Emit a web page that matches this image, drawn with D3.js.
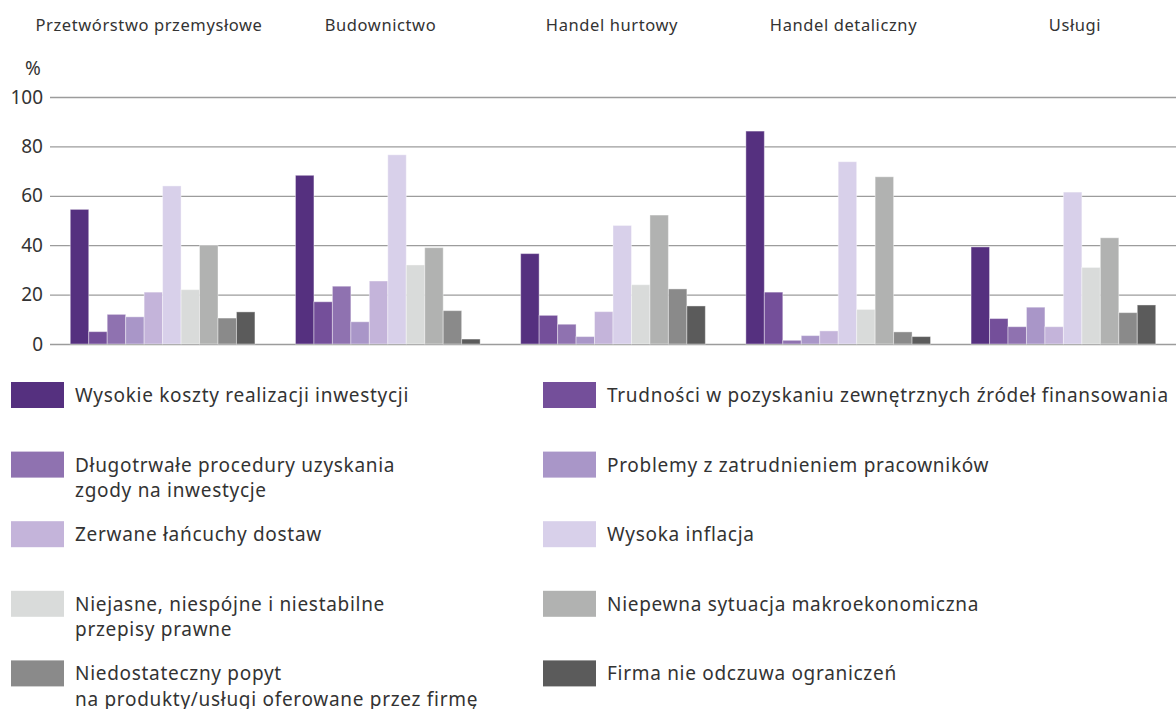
<!DOCTYPE html>
<html>
<head>
<meta charset="utf-8">
<script src="https://cdn.jsdelivr.net/npm/d3@7"></script>
<style>
  body { margin: 0; background: #fff; }
  svg text { font-family: "Noto Sans", sans-serif; fill: #333; }
</style>
</head>
<body>
<svg id="chart" width="1176" height="709"></svg>
<script>
// sectors (groups along x)
var categories = ["Przetwórstwo przemysłowe", "Budownictwo", "Handel hurtowy", "Handel detaliczny", "Usługi"];

// barriers (series), lines split with \n for the legend
var seriesNames = [
  "Wysokie koszty realizacji inwestycji",
  "Trudności w pozyskaniu zewnętrznych źródeł finansowania",
  "Długotrwałe procedury uzyskania\nzgody na inwestycje",
  "Problemy z zatrudnieniem pracowników",
  "Zerwane łańcuchy dostaw",
  "Wysoka inflacja",
  "Niejasne, niespójne i niestabilne\nprzepisy prawne",
  "Niepewna sytuacja makroekonomiczna",
  "Niedostateczny popyt\nna produkty/usługi oferowane przez firmę",
  "Firma nie odczuwa ograniczeń"
];

var colors = ["#55307f", "#744f9a", "#8f72b0", "#a996c8", "#c4b4da",
              "#d8d0ea", "#d9dbda", "#b1b2b1", "#8a8a8a", "#5b5b5b"];

// values in %, one array per sector, in series order
var przetworstwo = [54.5, 5, 12, 11, 21, 64, 22, 40, 10.5, 13];
var budownictwo  = [68.3, 17.1, 23.4, 9, 25.5, 76.6, 32, 39, 13.5, 2];
var hurt         = [36.6, 11.6, 8, 3, 13.1, 48, 24, 52.2, 22.3, 15.4];
var detal        = [86.2, 21, 1.5, 3.4, 5.3, 73.8, 14, 67.7, 4.9, 3];
var uslugi       = [39.3, 10.3, 7, 14.9, 7, 61.5, 31, 43, 12.7, 15.8];
var values = [przetworstwo, budownictwo, hurt, detal, uslugi];

var yTicks = [0, 20, 40, 60, 80, 100];

var svg = d3.select("#chart");

var x0 = d3.scaleBand()
  .domain(categories)
  .range([50, 1176])
  .paddingInner(0.18)
  .paddingOuter(0.09);

var x1 = d3.scaleBand()
  .domain(d3.range(seriesNames.length))
  .range([0, x0.bandwidth()]);

var y = d3.scaleLinear().domain([0, 100]).range([344, 97]);

// labels over each group (spaced a bit wider than the groups)
var xLab = d3.scalePoint().domain(categories).range([149, 1075]);
svg.append("g").selectAll("text")
  .data(categories)
  .enter().append("text")
  .attr("x", function(d) { return xLab(d); })
  .attr("y", 31)
  .attr("text-anchor", "middle")
  .style("font-size", "16.5px")
  .style("letter-spacing", "0.6px")
  .text(function(d) { return d; });

// gridlines + tick labels
var yAxis = svg.append("g")
  .attr("transform", "translate(50,0)")
  .call(d3.axisLeft(y).tickValues(yTicks).tickSize(-1126).tickPadding(7));
yAxis.select(".domain").remove();
yAxis.selectAll(".tick line").attr("stroke", "#9c9c9c").attr("stroke-width", 1.3);
yAxis.selectAll(".tick text")
  .attr("fill", "#333")
  .style("font-size", "19px")
  .style("font-family", "'Noto Sans', sans-serif");

svg.append("text")
  .attr("x", 33).attr("y", 75)
  .attr("text-anchor", "middle")
  .style("font-size", "19px")
  .text("%");

// bars
var groups = svg.append("g").selectAll("g")
  .data(values)
  .enter().append("g")
  .attr("transform", function(d, i) { return "translate(" + x0(categories[i]) + ",0)"; });

groups.selectAll("rect")
  .data(function(d) { return d; })
  .enter().append("rect")
  .attr("x", function(d, j) { return x1(j); })
  .attr("y", function(d) { return y(d); })
  .attr("width", x1.bandwidth())
  .attr("height", function(d) { return y(0) - y(d); })
  .attr("fill", function(d, j) { return colors[j]; })
  .attr("stroke", "#fff")
  .attr("stroke-opacity", 0.4)
  .attr("stroke-width", 1);

// legend, two columns
var legend = svg.append("g").selectAll("g")
  .data(seriesNames)
  .enter().append("g")
  .attr("transform", function(d, i) {
    var col = i % 2, row = Math.floor(i / 2);
    return "translate(" + (col ? 543 : 11) + "," + (382 + row * 69.6) + ")";
  });

legend.append("rect")
  .attr("width", 53).attr("height", 26)
  .attr("fill", function(d, i) { return colors[i]; });

legend.append("text")
  .attr("x", 64)
  .attr("y", 20)
  .style("font-size", "19px")
  .style("letter-spacing", "0.7px")
  .selectAll("tspan")
  .data(function(d) { return d.split("\n"); })
  .enter().append("tspan")
  .attr("x", 64)
  .attr("dy", function(d, k) { return k ? 25.5 : 0; })
  .text(function(d) { return d; });
</script>
</body>
</html>
